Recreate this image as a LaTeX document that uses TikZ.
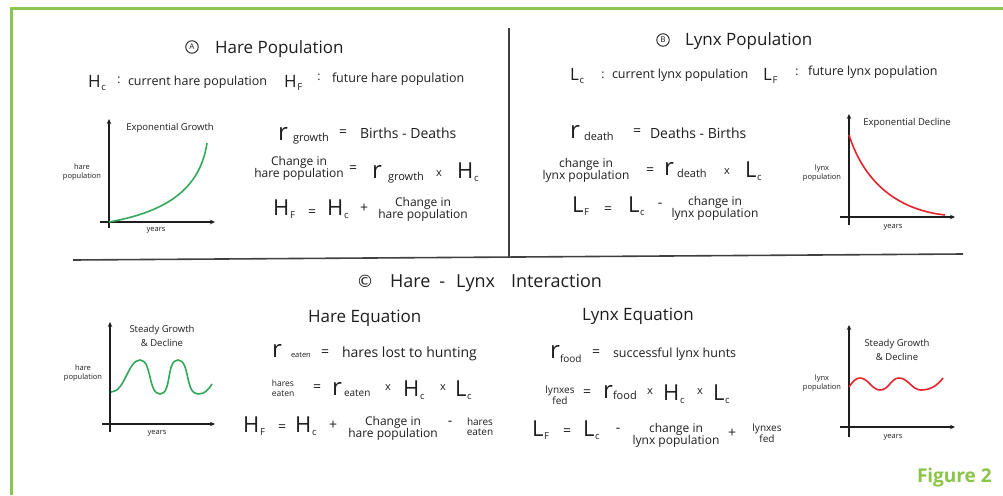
\documentclass[tikz,border=0pt]{standalone}
\usepackage{fontspec}
\setmainfont{Open Sans}
\newfontfamily\symf{DejaVu Sans}
\usetikzlibrary{arrows.meta}
\definecolor{ink}{RGB}{30,30,30}
\definecolor{framegreen}{RGB}{140,198,82}
\definecolor{curvegreen}{RGB}{52,168,90}
\definecolor{curvered}{RGB}{230,35,45}
\definecolor{figgreen}{RGB}{138,196,72}
\newcommand\fs[2]{\fontsize{#1}{#2}\selectfont}
\newcommand\sbs[1]{\kern0.8pt\raisebox{-3pt}{\fs{9.5}{9.5}#1}}
\begin{document}
\begin{tikzpicture}[x=1pt,y=-1pt,
  t/.style={inner sep=0pt, outer sep=0pt, text=ink},
  bw/.style={t, anchor=base west},
  ttl/.style={bw, font=\fs{17}{17}},
  small/.style={bw, font=\fs{12.5}{12.5}},
  big/.style={bw, font=\fs{22}{22}},
  bigs/.style={bw, font=\fs{17}{17}},
  rr/.style={bw, font=\fs{24}{24}},
  eqt/.style={bw, font=\fs{14}{14}},
  subt/.style={bw, font=\fs{11}{11}},
  op/.style={t, anchor=center, font=\fs{14}{14}},
  tim/.style={t, anchor=center, font=\fs{11}{11}},
  stk/.style={t, anchor=center, align=center, font=\fs{12}{12}},
  stks/.style={t, anchor=center, align=center, font=\fs{10}{10}},
  glab/.style={t, anchor=center, align=center, font=\fs{7.5}{9}},
  gtit/.style={t, anchor=center, align=center, font=\fs{9.5}{14}},
  circ/.style={t, anchor=center, font=\symf\fs{17}{17}},
  circlet/.style={draw=ink, circle, line width=0.9pt, minimum size=12.5pt, inner sep=0pt, text=ink, font=\fs{8}{8}},
  axis/.style={draw=ink, line width=1.4pt, -{Stealth[length=5pt,width=4.5pt]}},
  divider/.style={draw=ink!85, line width=1.6pt},
  gcurve/.style={draw=curvegreen, line width=1.6pt},
  rcurve/.style={draw=curvered, line width=1.6pt}
]
\useasboundingbox (0,0) rectangle (1003,495);
\fill[white] (0,0) rectangle (1003,495);
% frame
\draw[framegreen, line width=3pt] (11.5,495) -- (11.5,8.5) -- (1003,8.5);
% dividers
\draw[divider] (509,28) -- (509,257);
\draw[divider] (73,260) -- (963,254);

% ===== Panel A =====
\node[circlet] (circA) at (192,47) {A};
\node[ttl] (titA) at (215,54) {Hare Population};
\node[bigs] (Hc1) at (88,87) {H\sbs{c}};
\node[op, font=\fs{12}{12}] (colA1) at (119,80) {:};
\node[small] (curH) at (128,85) {current hare population};
\node[bigs] (HF1) at (284,87) {H\sbs{F}};
\node[op, font=\fs{12}{12}] (colA2) at (319,77) {:};
\node[small] (futH) at (332,82) {future hare population};

% graph A
\draw[axis] (109,228) -- (109,119);
\draw[axis] (100,222) -- (215,222);
\node[gtit] (gAt) at (170,128) {Exponential Growth};
\node[glab] (gAy) at (82,172) {hare\\population};
\node[glab] (gAx) at (156,230) {years};
\draw[gcurve] (109,222) .. controls (165,212) and (200,190) .. (207,143);

% eq A1
\node[rr] (rA1) at (278,140) {r};
\node[subt] (gA1) at (293,141) {growth};
\node[op] (eqA1) at (343,133) {=};
\node[eqt] (bdA) at (360,138) {Births - Deaths};
% eq A2
\node[stk] (chA2) at (299,168) {Change in\\hare population};
\node[op] (eqA2) at (353,169) {=};
\node[rr] (rA2) at (372,178) {r};
\node[subt] (gA2) at (388,180) {growth};
\node[tim] (xA2) at (439,174) {x};
\node[big] (HcA2) at (457,178) {H\sbs{c}};
% eq A3
\node[big] (HFA3) at (273,215) {H\sbs{F}};
\node[op] (eqA3) at (312,213) {=};
\node[big] (HcA3) at (327,215) {H\sbs{c}};
\node[op] (plA3) at (364,208) {+};
\node[stk] (chA3) at (423,209) {Change in\\hare population};

% ===== Panel B =====
\node[circlet] (circB) at (663,40) {B};
\node[ttl] (titB) at (685,46) {Lynx Population};
\node[bigs] (Lc1) at (570,80) {L\sbs{c}};
\node[op, font=\fs{12}{12}] (colB1) at (603,75) {:};
\node[small] (curL) at (612,78) {current lynx population};
\node[bigs] (LF1) at (763,80) {L\sbs{F}};
\node[op, font=\fs{12}{12}] (colB2) at (797,72) {:};
\node[small] (futL) at (808,75) {future lynx population};

% eq B1
\node[rr] (rB1) at (570,138) {r};
\node[subt] (dB1) at (584,140) {death};
\node[op] (eqB1) at (637,132) {=};
\node[eqt] (dbB) at (650,138) {Deaths - Births};
% eq B2
\node[stk] (chB2) at (586,170) {change in\\lynx population};
\node[op] (eqB2) at (650,171) {=};
\node[rr] (rB2) at (664,175) {r};
\node[subt] (dB2) at (677,177) {death};
\node[tim] (xB2) at (727,172) {x};
\node[big] (LcB2) at (745,177) {L\sbs{c}};
% eq B3
\node[big] (LFB3) at (572,212) {L\sbs{F}};
\node[op] (eqB3) at (608,210) {=};
\node[big] (LcB3) at (628,212) {L\sbs{c}};
\node[op] (miB3) at (660,205) {-};
\node[stk] (chB3) at (715,208) {change in\\lynx population};

% graph B
\draw[axis] (849,225) -- (849,114);
\draw[axis] (840,217) -- (955,217);
\node[gtit] (gBt) at (907,123) {Exponential Decline};
\node[glab] (gBy) at (822,173) {lynx\\population};
\node[glab] (gBx) at (893,227) {years};
\draw[rcurve] (849,135) .. controls (865,185) and (900,210) .. (945,215);

% ===== Panel C =====
\node[circ] (circC) at (365,281) {©};
\node[bw, font=\fs{18}{18}] (titC) at (390,287) {Hare\hspace{9pt}-\hspace{11pt}Lynx\hspace{16pt}Interaction};

% graph C1
\draw[axis] (110,432) -- (110,322);
\draw[axis] (102,424) -- (215,424);
\node[gtit] (gCt) at (162,336) {Steady Growth\\\& Decline};
\node[glab] (gCy) at (83,373) {hare\\population};
\node[glab] (gCx) at (157,433) {years};
\draw[gcurve] (111,392) .. controls (125,392) and (128,360) .. (140,360)
  .. controls (152,360) and (148,394) .. (160,394)
  .. controls (172,394) and (166,360) .. (178,360)
  .. controls (190,360) and (185,394) .. (198,394)
  .. controls (205,394) and (208,390) .. (212,384);

% Hare equation
\node[ttl] (titHE) at (308,322) {Hare Equation};
\node[rr] (rC1) at (272,357) {r};
\node[bw, font=\fs{7.5}{7.5}] (eC1) at (291,357) {eaten};
\node[op] (eqC1) at (325,353) {=};
\node[eqt] (hlC1) at (342,357) {hares lost to hunting};
\node[stks, font=\fs{8.5}{10}] (heC2) at (283,388) {hares\\eaten};
\node[op] (eqC2) at (317,388) {=};
\node[rr] (rC2) at (332,395) {r};
\node[bw, font=\fs{10}{10}] (eC2) at (344,396) {eaten};
\node[tim] (xC2a) at (388,388) {x};
\node[big] (HcC2) at (403,396) {H\sbs{c}};
\node[tim] (xC2b) at (443,388) {x};
\node[big] (LcC2) at (455,396) {L\sbs{c}};
\node[big] (HFC3) at (243,432) {H\sbs{F}};
\node[op] (eqC3) at (282,428) {=};
\node[big] (HcC3) at (295,432) {H\sbs{c}};
\node[op] (plC3) at (333,425) {+};
\node[stk] (chC3) at (393,428) {Change in\\hare population};
\node[op] (miC3) at (450,423) {-};
\node[stks] (heC3) at (480,427) {hares\\eaten};

% Lynx equation
\node[ttl] (titLE) at (582,320) {Lynx Equation};
\node[rr] (rD1) at (550,358) {r};
\node[bw, font=\fs{10}{10}] (fD1) at (560,362) {food};
\node[op] (eqD1) at (596,353) {=};
\node[small] (slD1) at (613,357) {successful lynx hunts};
\node[stks] (lfD2) at (560,395) {lynxes\\fed};
\node[op] (eqD2) at (587,393) {=};
\node[rr] (rD2) at (603,398) {r};
\node[bw, font=\fs{11}{11}] (fD2) at (613,399) {food};
\node[tim] (xD2a) at (650,392) {x};
\node[big] (HcD2) at (663,400) {H\sbs{c}};
\node[tim] (xD2b) at (700,392) {x};
\node[big] (LcD2) at (713,400) {L\sbs{c}};
\node[big] (LFD3) at (532,436) {L\sbs{F}};
\node[op] (eqD3) at (567,432) {=};
\node[big] (LcD3) at (583,436) {L\sbs{c}};
\node[op] (miD3) at (618,430) {-};
\node[stk] (chD3) at (676,435) {change in\\lynx population};
\node[op] (plD3) at (732,433) {+};
\node[stks] (lfD3) at (767,433) {lynxes\\fed};

% graph C2
\draw[axis] (849,437) -- (849,325);
\draw[axis] (840,427) -- (955,427);
\node[gtit] (gDt) at (897,350) {Steady Growth\\\& Decline};
\node[glab] (gDy) at (822,383) {lynx\\population};
\node[glab] (gDx) at (893,437) {years};
\draw[rcurve] (849,387) .. controls (853,381) and (856,378) .. (860,378)
  .. controls (868,378) and (872,390) .. (880,390)
  .. controls (889,390) and (891,378) .. (899,378)
  .. controls (908,378) and (912,390) .. (921,390)
  .. controls (930,390) and (937,386) .. (943,378);

% caption
\node[bw, font=\bfseries\fs{19}{19}, text=figgreen] (fig) at (917,482) {Figure 2};
\end{tikzpicture}
\end{document}
